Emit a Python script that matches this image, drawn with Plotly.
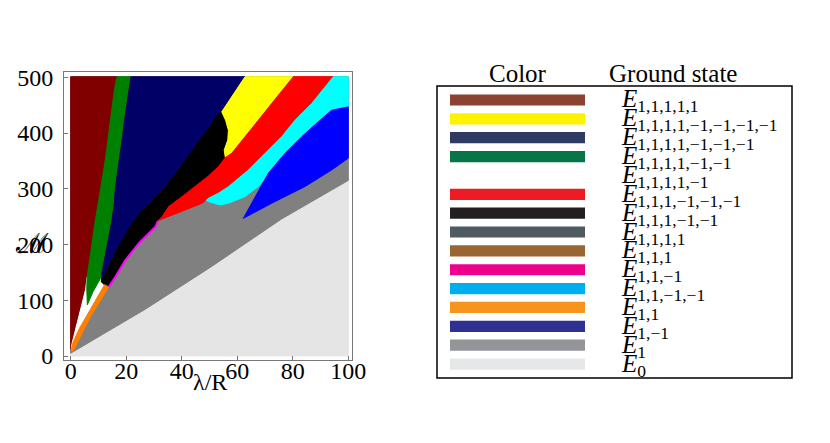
import plotly.graph_objects as go

# ---------------- data ----------------
# phase boundaries, points (lambda/R, M)
maroon_green = [(16.7, 501), (15.9, 483), (15.1, 453), (14.4, 423), (13.7, 393.5), (12.8, 363.6),
                (11.9, 333.7), (10.9, 303.8), (9.6, 268), (8.7, 238), (7.7, 202), (6.8, 172), (5.9, 142)]
maroon_white = [(5.9, 142), (5.4, 120), (4.7, 106), (3.5, 82.5), (2.3, 58.6), (1.1, 34.7), (0.5, 22.7), (0.2, 12)]
green_tip = [(5.9, 142), (5.8, 118), (6.0, 92)]
green_white = [(6.0, 92), (8.0, 115), (10.7, 139), (11.3, 150)]
green_navy = [(11.3, 150), (12.2, 172), (13.4, 202), (14.6, 236), (15.6, 268), (16.1, 300), (17.0, 333.7),
              (17.9, 363.6), (18.7, 393.5), (19.4, 423), (20.3, 453), (20.9, 477), (21.7, 501)]
navy_yellow = [(62.8, 501), (60.4, 483), (58.0, 465), (55.8, 447), (54.4, 438)]
navy_black = [(54.4, 438), (52.0, 429), (50.3, 411.5), (47.3, 393.5), (43.1, 363.6), (38.9, 333.7),
              (34.1, 303.8), (28.7, 274), (25.4, 259), (23.0, 244), (21.5, 232), (17.9, 202),
              (14.9, 172), (13.1, 154), (11.9, 142), (11.0, 133)]
black_yellow = [(54.4, 438), (55.8, 423), (56.8, 405), (56.6, 387.6), (55.3, 369.6), (55.7, 356)]
yellow_red = [(80.2, 501), (77.2, 483), (72.4, 453), (67.6, 423), (62.8, 393.5), (58.0, 363.6), (55.7, 356)]
black_red = [(55.7, 356), (53.2, 339.7), (49.6, 323), (44.9, 303.8), (40.1, 285.9), (35.3, 268),
             (32.9, 250), (31.5, 243)]
red_cyan = [(94.6, 501), (86.8, 453), (80.8, 423), (76.0, 393.5), (70.0, 363.6), (64.0, 333.7),
            (56.8, 303.8), (53.2, 292), (49.6, 283), (48.8, 279)]
red_gray = [(48.8, 279), (47.3, 274), (41.3, 262), (35.3, 250), (31.5, 243)]
black_gray = [(31.5, 243), (30.5, 232), (24.5, 202), (19.7, 172), (16.1, 142), (13.7, 124)]
black_bottom = [(13.7, 124), (12.3, 127), (11.0, 133)]
cyan_gray = [(48.8, 279), (49.6, 277), (53.8, 271), (56.8, 274), (62.8, 286), (67.6, 304), (70.6, 322), (71.2, 328)]
cyan_blue = [(71.2, 328), (77.2, 363.6), (83.2, 393.5), (89.8, 423), (94.0, 441), (100, 447)]
blue_gray_left = [(71.2, 328), (66.7, 288), (62.2, 247)]
blue_gray_low = [(62.2, 247), (72.4, 274), (84.4, 304), (94.0, 333.7), (100, 355)]
gray_lightgray = [(0, 5), (26.9, 84), (50.9, 161), (76.0, 246), (100, 315)]
orange_gray = [(0.6, 8), (1.1, 10.8), (2.3, 22.7), (4.7, 46.6), (7.1, 70.6), (10.1, 94.5), (13.1, 118), (13.7, 124)]
orange_white = [(12.2, 128), (9.0, 100), (6.0, 75), (3.2, 50), (0.9, 25), (0.2, 12)]
x_extent = [0, 100]
y_extent = [0, 501]

x_ticks = [0, 20, 40, 60, 80, 100]
y_ticks = [0, 100, 200, 300, 400, 500]

legend_states = ["1,1,1,1,1", "1,1,1,1,−1,−1,−1,−1", "1,1,1,1,−1,−1,−1", "1,1,1,1,−1,−1",
                 "1,1,1,1,−1", "1,1,1,−1,−1,−1", "1,1,1,−1,−1", "1,1,1,1", "1,1,1", "1,1,−1",
                 "1,1,−1,−1", "1,1", "1,−1", "1", "0"]

# ---------------- styles ----------------
legend_colors = ["#8C4131", "#FFF200", "#2E3A62", "#077547", None, "#ED1C24", "#231F20", "#4F5B60",
                 "#996633", "#EC008C", "#00AEEF", "#F7941D", "#2E3192", "#939598", "#E6E7E8"]
C = dict(lightgray="#E5E5E5", gray="#808080", maroon="#800000", white="#FFFFFF", green="#008000",
         navy="#000066", black="#000000", yellow="#FFFF00", red="#FF0000", cyan="#00FFFF",
         blue="#0000FF", orange="#FF8000", magenta="#FF00FF")
FONT = "Liberation Serif, Times New Roman, serif"
W, H = 830, 443


def rev(pts):
    return list(reversed(pts))


x0, x1 = x_extent
y0, y1 = y_extent
regions = [
    ("lightgray", [(x0, y0), (x1, y0), (x1, y1), (x0, y1)]),
    ("gray", gray_lightgray + [(x1, y1), (x0, y1)]),
    ("maroon", [(x0, y1)] + maroon_green + maroon_white[1:] + [(x0, 12)]),
    ("white", maroon_white + rev(orange_white)[1:] + [(11.0, 133), (11.3, 150)]),
    ("green", maroon_green + green_tip[1:] + green_white[1:] + green_navy[1:]),
    ("navy", green_navy + navy_yellow + navy_black[1:]),
    ("black", black_yellow + black_red[1:] + black_gray[1:] + black_bottom[1:] + rev(navy_black)[1:]),
    ("yellow", navy_yellow + black_yellow[1:] + rev(yellow_red)[1:]),
    ("red", yellow_red + black_red[1:] + rev(red_gray)[1:] + rev(red_cyan)[1:]),
    ("cyan", red_cyan + cyan_gray[1:] + cyan_blue[1:] + [(x1, y1)]),
    ("blue", blue_gray_left + blue_gray_low[1:] + rev(cyan_blue)[:-1]),
    ("orange", orange_gray + orange_white),
]

fig = go.Figure()
for name, pts in regions:
    xs = [p[0] for p in pts] + [pts[0][0]]
    ys = [p[1] for p in pts] + [pts[0][1]]
    fig.add_trace(go.Scatter(x=xs, y=ys, mode="lines", fill="toself", fillcolor=C[name],
                             line=dict(color=C[name], width=1), hoverinfo="skip", showlegend=False))
fig.add_trace(go.Scatter(x=[p[0] for p in black_gray], y=[p[1] for p in black_gray], mode="lines",
                         line=dict(color=C["magenta"], width=2), hoverinfo="skip", showlegend=False))

# plot frame in pixels
L, R, T, B = 64, 352, 71.7, 360
# data -> pixel mapping of reference: x0 at 70.7, x100 at 348.3 ; y0 at 356, y500 at 77.3
xs_px = (348.3 - 70.7) / 100
ys_px = (356 - 77.3) / 500
xr = [(L - 70.7) / xs_px, (R - 70.7) / xs_px]
yr = [(356 - B) / ys_px, (356 - T) / ys_px]

axis_common = dict(showgrid=False, zeroline=False, showline=True, linecolor="#777777", linewidth=1,
                   mirror=True, ticks="inside", ticklen=4, tickcolor="#777777", automargin=False,
                   tickfont=dict(family=FONT, size=24, color="black"))
fig.update_layout(
    template="none",
    width=W, height=H, margin=dict(l=0, r=0, t=0, b=0, pad=0, autoexpand=False), autosize=False,
    paper_bgcolor="white", plot_bgcolor="white",
    xaxis=dict(range=xr, domain=[L / W, R / W], tickvals=x_ticks, ticklabelstandoff=-11, **axis_common),
    yaxis=dict(range=yr, domain=[1 - B / H, 1 - T / H], tickvals=y_ticks, ticklabelstandoff=5, **axis_common),
)


def px(xp, yp):
    return xp / W, 1 - yp / H


ann = []
for text, (ax_, ay_), fam, size in [("λ/R", (210, 382), FONT, 24), ("ℳ", (32, 243), "DejaVu Serif", 28),
                                     ("Color", (518, 73), FONT, 25), ("Ground state", (673, 73), FONT, 25)]:
    xp, yp = px(ax_, ay_)
    ann.append(dict(text=text, x=xp, y=yp, xref="paper", yref="paper", showarrow=False,
                    xanchor="center", yanchor="middle", font=dict(family=fam, size=size, color="black")))

shapes = []
bx0, by0 = px(437, 378)
bx1, by1 = px(792, 86)
shapes.append(dict(type="rect", xref="paper", yref="paper", x0=bx0, x1=bx1, y0=by0, y1=by1,
                   line=dict(color="black", width=1.5), fillcolor="rgba(0,0,0,0)"))
row0, dy = 100, 18.86
for i, (state, col) in enumerate(zip(legend_states, legend_colors)):
    cy = row0 + i * dy
    if col is not None:
        a, b_ = px(450, cy + 5.6)
        c, d = px(585, cy - 5.6)
        shapes.append(dict(type="rect", xref="paper", yref="paper", x0=a, x1=c, y0=b_, y1=d,
                           line=dict(width=0), fillcolor=col))
    lx, ly = px(619, cy + 1)
    ann.append(dict(text=f"<i>E</i><sub>{state}</sub>", x=lx, y=ly, xref="paper", yref="paper",
                    showarrow=False, xanchor="left", yanchor="middle",
                    font=dict(family=FONT, size=25, color="black")))

fig.update_layout(annotations=ann, shapes=shapes)
fig.write_html("out.html", config={"displayModeBar": False},
               post_script="document.body.style.margin='0px';")
